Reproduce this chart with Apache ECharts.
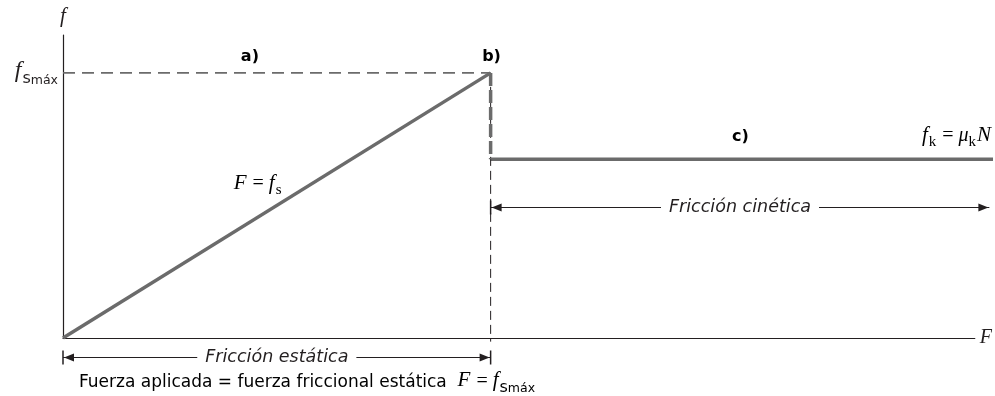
<!DOCTYPE html>
<html>
<head>
<meta charset="utf-8">
<script src="https://cdn.jsdelivr.net/npm/echarts@6/dist/echarts.min.js"></script>
<style>
  html, body { margin: 0; padding: 0; background: #fff; }
  #chart { width: 995px; height: 396px; }
</style>
</head>
<body>
<div id="chart"></div>
<script>
// applied force F along x (arbitrary units), friction f along y
const staticForce = [0, 46.9];
const staticFriction = [0, 87.5];
const kineticForce = [46.9, 102];
const kineticFriction = [59, 59];
const fsMax = 87.5;

// dimension arrows under / beside the curve: [from F, to F, height]
const spanFrom = [0, 46.9];
const spanTo = [46.9, 101.6];
const spanAt = [-6.3, 43.2];
const spanLabels = ['Fricción estática', 'Fricción cinética'];
const spanBars = [[true, true], [true, false]];

// text notes: anchor in data units + rich text
const noteX = [20.5, 47, 74.3, 21.4, 101.9, 1.75];
const noteY = [92.7, 92.7, 66.3, 50.5, 66.3, -14.8];
const noteAlign = ['center', 'center', 'center', 'center', 'right', 'left'];
const noteTexts = [
  '{b|a)}',
  '{b|b)}',
  '{b|c)}',
  '{it|F}{rm| = }{it|f}{sub|s}',
  '{it|f}{sub|k}{rm| = }{itm|μ}{sub|k}{it|N}',
  '{cap|Fuerza aplicada = fuerza friccional estática  }{it|F}{rm| = }{it|f}{ssub|s}{msub|máx}'
];

const ink = '#231f20';
const gray = '#6b6b6b';
const sans = '"DejaVu Sans", Verdana, sans-serif';
const serif = '"Liberation Serif", "Times New Roman", serif';

const rich = {
  it: { fontFamily: serif, fontStyle: 'italic', fontSize: 21, color: ink, verticalAlign: 'bottom', padding: [0, 1, 4, 0] },
  itm: { fontFamily: serif, fontStyle: 'italic', fontSize: 20, color: ink, verticalAlign: 'bottom', padding: [0, 0, 4, 0] },
  rm: { fontFamily: serif, fontSize: 20, color: ink, verticalAlign: 'bottom', padding: [0, 0, 4, 0] },
  sub: { fontFamily: serif, fontSize: 15, color: ink, verticalAlign: 'bottom', padding: [0, 1, 0, 0] },
  ssub: { fontFamily: sans, fontSize: 16, color: ink, verticalAlign: 'bottom' },
  msub: { fontFamily: sans, fontSize: 12.5, color: ink, verticalAlign: 'bottom' },
  cap: { fontFamily: sans, fontSize: 17, color: ink, verticalAlign: 'bottom', padding: [0, 0, 4, 0] },
  b: { fontFamily: sans, fontWeight: 'bold', fontSize: 16, color: ink }
};

function renderSpan(params, api) {
  const i = params.dataIndex;
  const a = api.coord([api.value(0), api.value(2)]);
  const b = api.coord([api.value(1), api.value(2)]);
  const y = Math.round(a[1]) + 0.5;
  const x0 = a[0], x1 = b[0];
  const h = 4, L = 11;
  const kids = [
    { type: 'line', shape: { x1: x0, y1: y, x2: x1, y2: y }, style: { stroke: ink, lineWidth: 1 } },
    { type: 'polygon', shape: { points: [[x0 + 1, y], [x0 + L, y - h], [x0 + L, y + h]] }, style: { fill: ink } },
    { type: 'polygon', shape: { points: [[x1 - 1, y], [x1 - L, y - h], [x1 - L, y + h]] }, style: { fill: ink } },
    {
      type: 'text',
      style: {
        text: spanLabels[i], x: (x0 + x1) / 2, y: y,
        align: 'center', verticalAlign: 'middle',
        fontFamily: sans, fontStyle: 'italic', fontSize: 17.5, fill: ink,
        backgroundColor: '#fff', padding: [0, 8]
      }
    }
  ];
  if (spanBars[i][0]) kids.push({ type: 'line', shape: { x1: x0, y1: y - 7, x2: x0, y2: y + 7 }, style: { stroke: ink, lineWidth: 1.5 } });
  if (spanBars[i][1]) kids.push({ type: 'line', shape: { x1: x1, y1: y - 7, x2: x1, y2: y + 7 }, style: { stroke: ink, lineWidth: 1.5 } });
  return { type: 'group', children: kids };
}

// kinetic plateau runs past the end of the F axis, so draw it unclipped
function renderPlateau(params, api) {
  const a = api.coord([api.value(0), api.value(2)]);
  const b = api.coord([api.value(1), api.value(3)]);
  return {
    type: 'line',
    shape: { x1: a[0], y1: a[1], x2: b[0], y2: b[1] },
    style: { stroke: gray, lineWidth: 3.5 }
  };
}

function renderNote(params, api) {
  const i = params.dataIndex;
  const p = api.coord([api.value(0), api.value(1)]);
  return {
    type: 'text',
    style: { text: noteTexts[i], rich: rich, x: p[0], y: p[1], align: noteAlign[i], verticalAlign: 'middle' }
  };
}

const chart = echarts.init(document.getElementById('chart'), null, { renderer: 'canvas' });

chart.setOption({
  animation: false,
  backgroundColor: '#fff',
  grid: { left: 63, top: 35, width: 915, height: 303 },
  xAxis: {
    type: 'value', min: 0, max: 100,
    name: 'F', nameLocation: 'end', nameGap: 5,
    nameTextStyle: { fontFamily: serif, fontStyle: 'italic', fontSize: 20, color: ink, verticalAlign: 'middle' },
    axisLine: { lineStyle: { color: ink, width: 1.2 } },
    axisTick: { show: false }, axisLabel: { show: false }, splitLine: { show: false }
  },
  yAxis: {
    type: 'value', min: 0, max: 100,
    name: 'f', nameLocation: 'end', nameGap: 8,
    nameTextStyle: { fontFamily: serif, fontStyle: 'italic', fontSize: 21, color: ink, align: 'center' },
    axisLine: { show: true, lineStyle: { color: ink, width: 1.2 } },
    axisTick: { show: false }, splitLine: { show: false },
    axisLabel: {
      customValues: [fsMax], margin: 5,
      formatter: () => '{big|f}{ssub|s}{msub|máx}',
      rich: Object.assign({
        big: { fontFamily: serif, fontStyle: 'italic', fontSize: 24, color: ink, verticalAlign: 'bottom', padding: [0, 1, 4, 0] }
      }, rich)
    }
  },
  series: [
    {
      name: 'guide fs', type: 'line', symbol: 'none', silent: true,
      data: [[0, fsMax], [staticForce[1], fsMax]],
      lineStyle: { color: gray, width: 1.8, type: [12, 7] }
    },
    {
      name: 'guide break', type: 'line', symbol: 'none', silent: true, clip: false,
      data: [[staticForce[1], fsMax], [staticForce[1], -1.2]],
      lineStyle: { color: ink, width: 1, type: [9, 5] }
    },
    {
      name: 'static', type: 'line', symbol: 'none',
      data: staticForce.map((x, i) => [x, staticFriction[i]]),
      lineStyle: { color: gray, width: 3.5 }
    },
    {
      name: 'drop', type: 'line', symbol: 'none',
      data: [[staticForce[1], staticFriction[1]], [kineticForce[0], kineticFriction[0]]],
      lineStyle: { color: gray, width: 3.5, type: [13, 4] }
    },
    {
      name: 'kinetic', type: 'custom', silent: true, clip: false,
      renderItem: renderPlateau,
      data: [[kineticForce[0], kineticForce[1], kineticFriction[0], kineticFriction[1]]]
    },
    {
      name: 'spans', type: 'custom', silent: true, clip: false,
      renderItem: renderSpan,
      data: spanFrom.map((x, i) => [x, spanTo[i], spanAt[i]])
    },
    {
      name: 'notes', type: 'custom', silent: true, clip: false,
      renderItem: renderNote,
      data: noteX.map((x, i) => [x, noteY[i]])
    }
  ]
});
</script>
</body>
</html>
